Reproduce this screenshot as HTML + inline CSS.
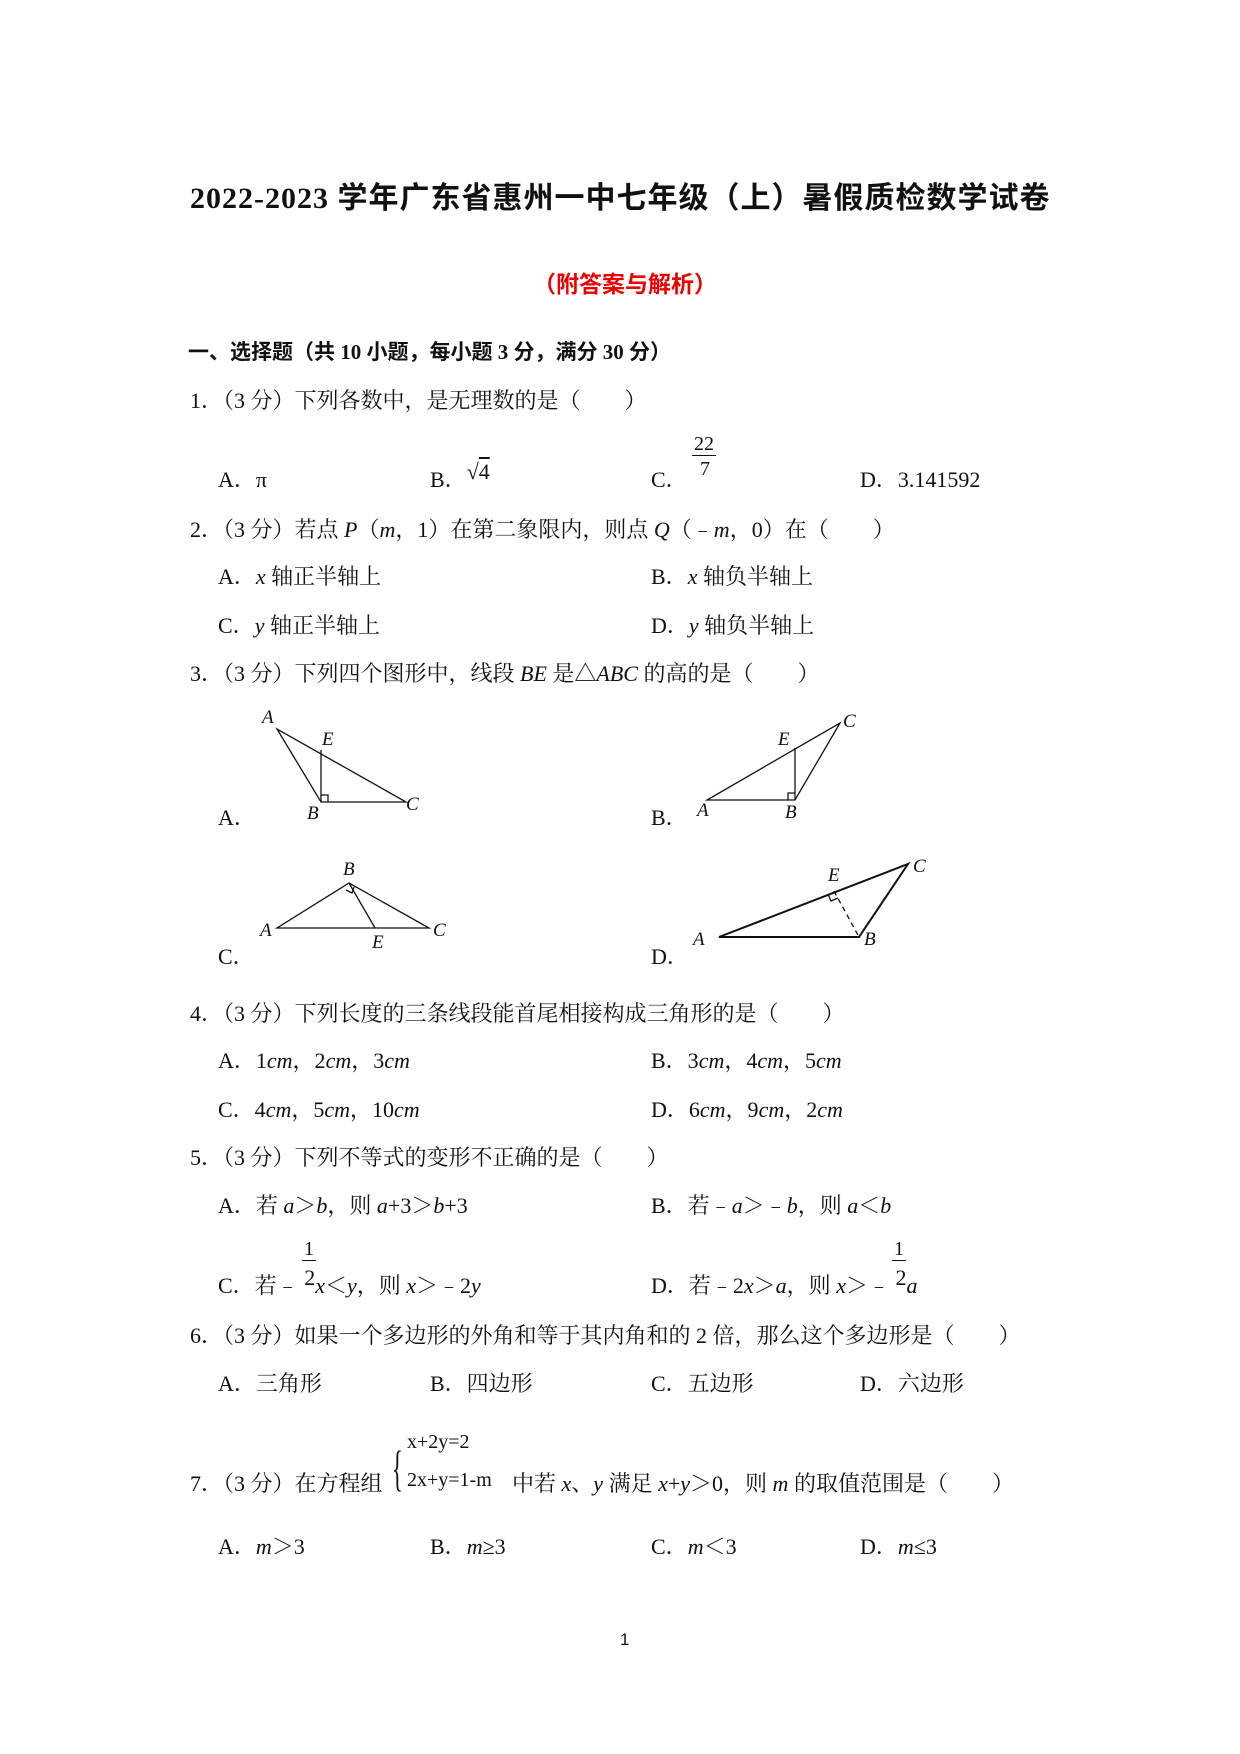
<!DOCTYPE html>
<html><head><meta charset="utf-8">
<style>
body{margin:0;background:#fff;}
#p{position:relative;width:1240px;height:1754px;background:#fff;font-family:"Liberation Serif","Noto Serif CJK SC",serif;font-size:22px;color:#111;}
.l{position:absolute;line-height:26px;white-space:nowrap;}
i{font-style:italic;}
.f{position:absolute;line-height:22px;font-size:20px;}
svg{position:absolute;left:0;top:0;}
</style></head><body><div id="p">
<div class="l" style="left:190px;top:183px;font-size:30px;font-weight:bold;line-height:32px;letter-spacing:1px;font-family:'Liberation Serif','Noto Sans CJK SC',sans-serif;">2022-2023 学年广东省惠州一中七年级（上）暑假质检数学试卷</div>
<div class="l" style="left:0;width:1250px;text-align:center;top:271px;font-size:23px;color:#e00;font-weight:bold;font-family:'Liberation Sans','Noto Sans CJK SC',sans-serif;">（附答案与解析）</div>
<div class="l" style="left:188px;top:339px;font-weight:bold;font-size:21px;font-family:'Liberation Serif','Noto Sans CJK SC',sans-serif;">一、选择题（共 10 小题，每小题 3 分，满分 30 分）</div>

<div class="l" style="left:190px;top:388px;">1．（3 分）下列各数中，是无理数的是（　　）</div>
<div class="l" style="left:218px;top:467px;">A．π</div>
<div class="l" style="left:430px;top:467px;">B．<span style="position:relative;top:-8px;">√<span style="text-decoration:overline;">4</span></span></div>
<div class="l" style="left:651px;top:467px;">C．</div>
<div class="f" style="left:692px;top:433px;border-bottom:1px solid #111;padding:0 2px;">22</div>
<div class="f" style="left:700px;top:458px;">7</div>
<div class="l" style="left:860px;top:467px;">D．3.141592</div>

<div class="l" style="left:190px;top:517px;">2．（3 分）若点 <i>P</i>（<i>m</i>，1）在第二象限内，则点 <i>Q</i>（﹣<i>m</i>，0）在（　　）</div>
<div class="l" style="left:218px;top:564px;">A．<i>x</i> 轴正半轴上</div>
<div class="l" style="left:651px;top:564px;">B．<i>x</i> 轴负半轴上</div>
<div class="l" style="left:218px;top:613px;">C．<i>y</i> 轴正半轴上</div>
<div class="l" style="left:651px;top:613px;">D．<i>y</i> 轴负半轴上</div>

<div class="l" style="left:190px;top:661px;">3．（3 分）下列四个图形中，线段 <i>BE</i> 是△<i>ABC</i> 的高的是（　　）</div>
<div class="l" style="left:218px;top:805px;">A．</div>
<div class="l" style="left:651px;top:805px;">B．</div>
<div class="l" style="left:218px;top:944px;">C．</div>
<div class="l" style="left:651px;top:944px;">D．</div>

<svg width="1240" height="1754" font-family="Liberation Serif" font-style="italic" font-size="19">
<g transform="translate(0,-7)">
<g stroke="#111" stroke-width="1.3" fill="none">
<path d="M277 736 L321 809 L406 809 Z"/><path d="M321 757 L321 809"/><path d="M321 802 h7 v7" />
<path d="M707 807 L795 807 L840 730 Z"/><path d="M795 755 L795 807"/><path d="M788 807 v-7 h7"/>
<path d="M277 935 L429 935 L349 890 Z"/><path d="M349 890 L375 935"/><path d="M346 897 l6 3 l2 -6"/>
<path d="M719 944 L859 944 L908 871 Z" stroke-width="2"/><path d="M834 898 L859 944" stroke-dasharray="5,4"/><path d="M828 901 l3 7 l7 -3"/>
</g>
<g fill="#111">
<text x="262" y="730">A</text><text x="322" y="752">E</text><text x="307" y="826">B</text><text x="406" y="817">C</text>
<text x="697" y="823">A</text><text x="778" y="752">E</text><text x="785" y="825">B</text><text x="843" y="734">C</text>
<text x="343" y="882">B</text><text x="260" y="943">A</text><text x="372" y="955">E</text><text x="433" y="943">C</text>
<text x="828" y="888">E</text><text x="913" y="879">C</text><text x="693" y="952">A</text><text x="864" y="952">B</text>
</g>
</g>
</svg>

<div class="l" style="left:190px;top:1001px;">4．（3 分）下列长度的三条线段能首尾相接构成三角形的是（　　）</div>
<div class="l" style="left:218px;top:1048px;">A．1<i>cm</i>，2<i>cm</i>，3<i>cm</i></div>
<div class="l" style="left:651px;top:1048px;">B．3<i>cm</i>，4<i>cm</i>，5<i>cm</i></div>
<div class="l" style="left:218px;top:1097px;">C．4<i>cm</i>，5<i>cm</i>，10<i>cm</i></div>
<div class="l" style="left:651px;top:1097px;">D．6<i>cm</i>，9<i>cm</i>，2<i>cm</i></div>

<div class="l" style="left:190px;top:1145px;">5．（3 分）下列不等式的变形不正确的是（　　）</div>
<div class="l" style="left:218px;top:1193px;">A．若 <i>a</i>＞<i>b</i>，则 <i>a</i>+3＞<i>b</i>+3</div>
<div class="l" style="left:651px;top:1193px;">B．若﹣<i>a</i>＞﹣<i>b</i>，则 <i>a</i>＜<i>b</i></div>
<div class="l" style="left:218px;top:1273px;">C．若﹣ <span style="position:relative;top:-8px;">2</span><i>x</i>＜<i>y</i>，则 <i>x</i>＞﹣2<i>y</i></div>
<div class="f" style="left:302px;top:1238px;border-bottom:1.5px solid #111;padding:0 2px;">1</div>
<div class="l" style="left:651px;top:1273px;">D．若﹣2<i>x</i>＞<i>a</i>，则 <i>x</i>＞﹣ <span style="position:relative;top:-8px;">2</span><i>a</i></div>
<div class="f" style="left:892px;top:1238px;border-bottom:1.5px solid #111;padding:0 2px;">1</div>

<div class="l" style="left:190px;top:1323px;">6．（3 分）如果一个多边形的外角和等于其内角和的 2 倍，那么这个多边形是（　　）</div>
<div class="l" style="left:218px;top:1371px;">A．三角形</div>
<div class="l" style="left:430px;top:1371px;">B．四边形</div>
<div class="l" style="left:651px;top:1371px;">C．五边形</div>
<div class="l" style="left:860px;top:1371px;">D．六边形</div>

<div class="l" style="left:190px;top:1471px;">7．（3 分）在方程组</div>
<div class="l" style="left:392px;top:1430px;font-size:50px;line-height:76px;transform:scaleX(0.45);transform-origin:left;">{</div>
<div class="f" style="left:407px;top:1431px;font-size:20px;">x+2y=2</div>
<div class="f" style="left:407px;top:1469px;font-size:20px;">2x+y=1-m</div>
<div class="l" style="left:512px;top:1471px;">中若 <i>x</i>、<i>y</i> 满足 <i>x</i>+<i>y</i>＞0，则 <i>m</i> 的取值范围是（　　）</div>
<div class="l" style="left:218px;top:1534px;">A．<i>m</i>＞3</div>
<div class="l" style="left:430px;top:1534px;">B．<i>m</i>≥3</div>
<div class="l" style="left:651px;top:1534px;">C．<i>m</i>＜3</div>
<div class="l" style="left:860px;top:1534px;">D．<i>m</i>≤3</div>

<div class="l" style="left:620px;top:1627px;font-size:17px;font-family:'Liberation Sans',sans-serif;">1</div>
</div></body></html>
